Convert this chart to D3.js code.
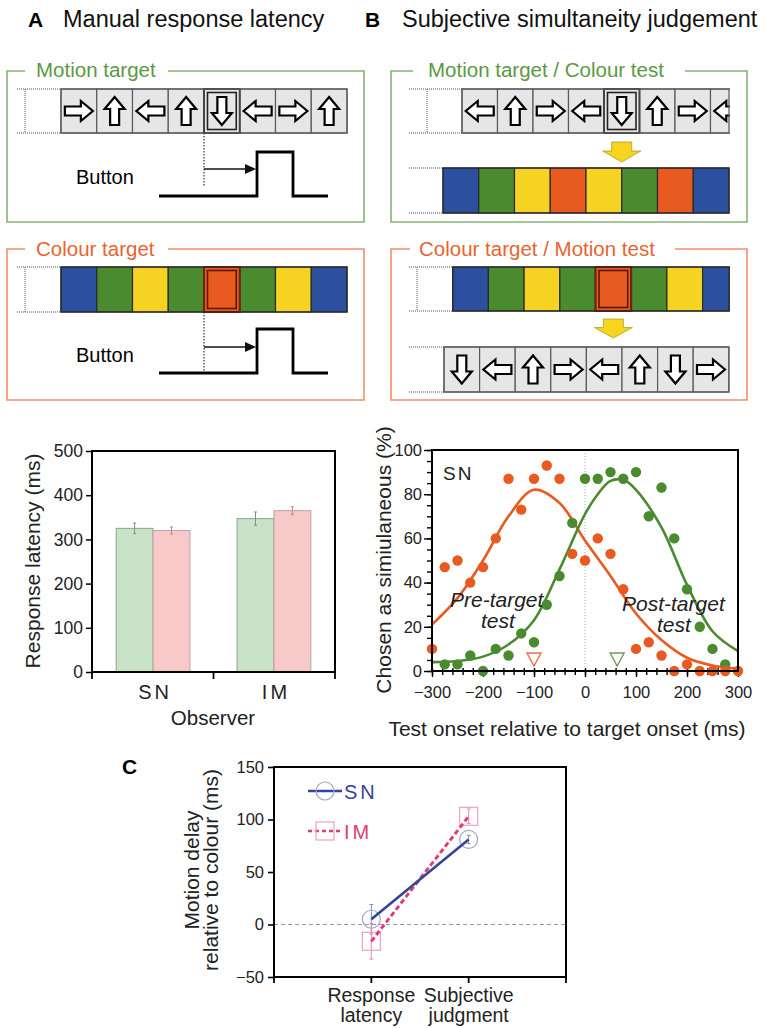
<!DOCTYPE html>
<html lang="en">
<head>
<meta charset="utf-8">
<script src="https://cdn.jsdelivr.net/npm/d3@7"></script>
<style>
  body { margin:0; padding:0; background:#ffffff; }
  svg { display:block; font-family:"Liberation Sans", Arial, Helvetica, sans-serif; }
  .tick text { font-family:"Liberation Sans", Arial, Helvetica, sans-serif; fill:#222; }
</style>
</head>
<body>
<script>
// ---- stimulus sequences ----
var motionTargetA = ["right","up","left","up","down","left","right","up"];
var colourTargetA = ["blue","green","yellow","green","orange","green","yellow","blue"];
var motionTargetB = ["left","up","right","left","down","up","right","left"];
var colourTestB   = ["blue","green","yellow","orange","yellow","green","orange","blue"];
var colourTargetB = ["blue","green","yellow","green","orange","green","yellow","blue"];
var motionTestB   = ["down","left","up","right","left","up","down","right"];

// ---- bar chart: response latency ----
var observers = ["SN","IM"];
var latencyMotion = [325, 347];
var latencyColour = [320, 365];
var errMotion = [12, 15];
var errColour = [8, 9];
var barTicks = [0,100,200,300,400,500];

// ---- simultaneity judgement (SN) ----
var testOnset = [-300,-275,-250,-225,-200,-175,-150,-125,-100,-75,-50,-25,0,25,50,75,100,125,150,175,200,225,250,275,300];
var preTarget = [10,47,50,40,47,60,87,73,87,93,87,53,50,60,53,37,10,13,7,0,3,0,0,0,0];
var postTarget = [null,3,3,7,0,10,7,17,13,30,43,67,87,87,90,87,90,70,83,60,37,20,10,3,null];
var preFitX  = [-300,-250,-200,-150,-100,-50,0,50,100,150,200,250,300];
var preFit   = [21,33,50,70,82,76,59,43,26,14,6,2.5,1];
var postFitX = [-300,-250,-200,-150,-100,-50,0,25,50,75,100,150,200,250,300];
var postFit  = [4,4.5,6.5,12,23,46,71,80,86,86.5,82,65,39,18,9];
var pssPre = -100, pssPost = 63;
var onsetTicks = [-300,-200,-100,0,100,200,300];
var pctTicks = [0,20,40,60,80,100];

// ---- panel C ----
var conditions = ["Response latency","Subjective judgment"];
var delaySN = [5, 81];
var errSN = [14, 4];
var delayIM = [-16, 103];
var errIM = [17, 7];
var delayTicks = [-50,0,50,100,150];

var palette = {blue:"#2c4f9e", green:"#4b8b30", yellow:"#f6d223", orange:"#e85a20"};
var greenLine = "#4b8b30", orangeLine = "#e85a20";
var greenBox = "#86b474", orangeBox = "#f0906c";
var greenTitle = "#5a9a42", orangeTitle = "#e8642e";
var snColour = "#34449a", imColour = "#e03c7a";

var svg = d3.select("body").append("svg").attr("width",773).attr("height",1028);

// ---------- helpers ----------
var arrowShape = "M-14,-4.5H2V-10L14,0L2,10V4.5H-14Z";
var dirAngle = {right:0, down:90, left:180, up:-90};
var clipId = 0;

function titledBox(l, t, r, b, gap0, gap1, col) {
  svg.append("path")
    .attr("d","M"+gap1+","+t+"H"+r+"V"+b+"H"+l+"V"+t+"H"+gap0)
    .attr("fill","none").attr("stroke",col).attr("stroke-width",1.6);
}
function boxTitle(x, y, col, label) {
  svg.append("text").attr("x",x).attr("y",y).attr("fill",col)
    .attr("font-size",20.5).text(label);
}

function drawStrip(o) {
  var n = o.items.length;
  var x = d3.scaleBand().domain(d3.range(n)).range([o.x0, o.x0 + o.cellW*n]);
  var id = "clip" + (clipId++);
  svg.append("clipPath").attr("id",id).append("rect")
    .attr("x",o.x0-1).attr("y",o.y0-2).attr("width",o.right-o.x0+2).attr("height",o.h+4);
  var g = svg.append("g").attr("clip-path","url(#"+id+")");
  var motion = o.kind === "motion";
  g.selectAll("rect.cell").data(o.items).enter().append("rect")
    .attr("class","cell")
    .attr("x",function(d,i){return x(i);}).attr("y",o.y0)
    .attr("width",x.bandwidth()).attr("height",o.h)
    .attr("fill",function(d){return motion ? "#e6e6e6" : palette[d];})
    .attr("stroke",motion ? "#5a5a5a" : "#2a2a2a").attr("stroke-width",1.2);
  if (motion) {
    g.selectAll("path.arw").data(o.items).enter().append("path")
      .attr("class","arw").attr("d",arrowShape)
      .attr("transform",function(d,i){
        return "translate("+(x(i)+x.bandwidth()/2)+","+(o.y0+o.h/2)+") rotate("+dirAngle[d]+")";})
      .attr("fill","#fff").attr("stroke","#000").attr("stroke-width",2.2)
      .attr("stroke-linejoin","miter");
  }
  if (o.target != null) {
    var tx = x(o.target);
    g.append("rect").attr("x",tx).attr("y",o.y0).attr("width",x.bandwidth()).attr("height",o.h)
      .attr("fill","none").attr("stroke",motion ? "#444" : "#6a2410").attr("stroke-width",2);
    g.append("rect").attr("x",tx+3.5).attr("y",o.y0+3.5).attr("width",x.bandwidth()-7).attr("height",o.h-7)
      .attr("fill","none").attr("stroke",motion ? "#222" : "#5a1a06").attr("stroke-width",1.6);
  }
  svg.append("rect").attr("x",o.x0).attr("y",o.y0).attr("width",o.right-o.x0).attr("height",o.h)
    .attr("fill","none").attr("stroke",motion ? "#5a5a5a" : "#2a2a2a").attr("stroke-width",1.2);
  // leading empty frame (dotted)
  var dot = svg.append("g").attr("stroke","#555").attr("stroke-width",1).attr("stroke-dasharray","1,1");
  dot.append("line").attr("x1",o.leadX).attr("x2",o.x0).attr("y1",o.y0).attr("y2",o.y0);
  dot.append("line").attr("x1",o.leadX).attr("x2",o.x0).attr("y1",o.y0+o.h).attr("y2",o.y0+o.h);
  if (o.vertX != null) {
    dot.append("line").attr("x1",o.vertX).attr("x2",o.vertX).attr("y1",o.y0).attr("y2",o.y0+o.h);
  }
  return x;
}

function buttonTrace(onsetX, stripBottom, dotEnd, arrowY, base, high) {
  var rise = onsetX + 53, fall = onsetX + 89;
  svg.append("line").attr("x1",onsetX).attr("x2",onsetX).attr("y1",stripBottom).attr("y2",dotEnd)
    .attr("stroke","#333").attr("stroke-width",1.2).attr("stroke-dasharray","1.5,1.5");
  svg.append("line").attr("x1",onsetX).attr("x2",rise-9).attr("y1",arrowY).attr("y2",arrowY)
    .attr("stroke","#111").attr("stroke-width",1.3);
  svg.append("path").attr("d","M"+(rise-1)+","+arrowY+"l-11,-5v10z").attr("fill","#111");
  svg.append("path")
    .attr("d","M"+(onsetX-45)+","+base+"H"+rise+"V"+high+"H"+fall+"V"+base+"H"+(onsetX+124))
    .attr("fill","none").attr("stroke","#000").attr("stroke-width",2.8);
}

function yellowArrow(cx, top, bottom) {
  var mid = top + (bottom-top)*0.45;
  svg.append("path")
    .attr("d","M"+(cx-10)+","+top+"H"+(cx+10)+"V"+mid+"H"+(cx+19)+"L"+cx+","+bottom+"L"+(cx-19)+","+mid+"H"+(cx-10)+"Z")
    .attr("fill","#f6d51e").attr("stroke","#b09a20").attr("stroke-width",0.8);
}

// ---------- panel titles ----------
svg.append("text").attr("x",28).attr("y",27).attr("font-size",21).attr("font-weight","bold").text("A");
svg.append("text").attr("x",63).attr("y",27).attr("font-size",23.5).attr("fill","#111").text("Manual response latency");
svg.append("text").attr("x",365).attr("y",27).attr("font-size",21).attr("font-weight","bold").text("B");
svg.append("text").attr("x",402).attr("y",27).attr("font-size",23.5).attr("fill","#111").text("Subjective simultaneity judgement");

// ---------- panel A ----------
titledBox(7,71,364,222,25,168,greenBox);
boxTitle(36,77,greenTitle,"Motion target");
var sa = drawStrip({x0:61, y0:89, cellW:35.75, h:44, items:motionTargetA, kind:"motion", target:4, right:347, leadX:17, vertX:25});
svg.append("text").attr("x",76).attr("y",184).attr("font-size",20).text("Button");
buttonTrace(sa(4), 133, 186, 169, 196, 152);

titledBox(7,249,364,400,25,168,orangeBox);
boxTitle(36,256,orangeTitle,"Colour target");
var sc = drawStrip({x0:61, y0:267, cellW:35.75, h:45, items:colourTargetA, kind:"colour", target:4, right:347, leadX:17, vertX:25});
svg.append("text").attr("x",76).attr("y",362).attr("font-size",20).text("Button");
buttonTrace(sc(4), 312, 373, 347, 373, 329);

// ---------- panel B ----------
titledBox(391,71,747,222,413,685,greenBox);
boxTitle(428,77,greenTitle,"Motion target / Colour test");
var sb1 = drawStrip({x0:462, y0:89, cellW:35.5, h:44, items:motionTargetB, kind:"motion", target:4, right:729, leadX:409, vertX:427});
yellowArrow(sb1(4)+sb1.bandwidth()/2, 142, 162);
drawStrip({x0:443, y0:168, cellW:35.75, h:45, items:colourTestB, kind:"colour", target:null, right:729, leadX:409, vertX:null});

titledBox(391,249,747,400,410,675,orangeBox);
boxTitle(419,256,orangeTitle,"Colour target / Motion test");
var sb2 = drawStrip({x0:452.7, y0:267, cellW:35.7, h:44, items:colourTargetB, kind:"colour", target:4, right:729, leadX:409, vertX:417});
yellowArrow(sb2(4)+sb2.bandwidth()/2, 319, 338);
drawStrip({x0:444, y0:347, cellW:35.6, h:45, items:motionTestB, kind:"motion", target:null, right:729, leadX:409, vertX:null});

// ---------- bar chart ----------
var yBar = d3.scaleLinear().domain([0,500]).range([672,451]);
var xBar = d3.scaleBand().domain(observers).range([92,335]).paddingInner(0.39).paddingOuter(0.2);
var xSub = d3.scaleBand().domain(["motion","colour"]).range([0,xBar.bandwidth()]);
var barRows = observers.map(function(o,i){
  return [{obs:o,key:"motion",v:latencyMotion[i],e:errMotion[i]},
          {obs:o,key:"colour",v:latencyColour[i],e:errColour[i]}];
});
var barFill = {motion:"#c9e3c9", colour:"#f8c9c9"};
var barStroke = {motion:"#8fa48f", colour:"#c0a0a0"};
var errStroke = {motion:"#7c967c", colour:"#e07c7c"};
var bars = svg.append("g");
barRows.forEach(function(row){
  var g = bars.append("g").attr("transform","translate("+xBar(row[0].obs)+",0)");
  g.selectAll("rect").data(row).enter().append("rect")
    .attr("x",function(d){return xSub(d.key);}).attr("width",xSub.bandwidth())
    .attr("y",function(d){return yBar(d.v);}).attr("height",function(d){return yBar(0)-yBar(d.v);})
    .attr("fill",function(d){return barFill[d.key];})
    .attr("stroke",function(d){return barStroke[d.key];}).attr("stroke-width",1);
  g.selectAll("path.err").data(row).enter().append("path").attr("class","err")
    .attr("d",function(d){
      var cx = xSub(d.key)+xSub.bandwidth()/2;
      return "M"+cx+","+yBar(d.v-d.e)+"V"+yBar(d.v+d.e)+
             "M"+(cx-1.5)+","+yBar(d.v+d.e)+"h3M"+(cx-1.5)+","+yBar(d.v-d.e)+"h3";})
    .attr("stroke",function(d){return errStroke[d.key];}).attr("stroke-width",1).attr("fill","none");
});
var ab = svg.append("g").attr("transform","translate(92,0)")
  .call(d3.axisLeft(yBar).tickValues(barTicks).tickSize(6).tickPadding(3));
ab.select(".domain").remove();
ab.selectAll(".tick line").attr("stroke","#000").attr("stroke-width",1.5);
ab.selectAll(".tick text").attr("font-size",17.5);
svg.append("rect").attr("x",92).attr("y",451).attr("width",243).attr("height",221)
  .attr("fill","none").attr("stroke","#000").attr("stroke-width",2);
var sepX = [92, (xBar("SN")+xBar.bandwidth()+xBar("IM"))/2, 335];
svg.selectAll("line.xsep").data(sepX).enter().append("line").attr("class","xsep")
  .attr("x1",function(d){return d;}).attr("x2",function(d){return d;})
  .attr("y1",672).attr("y2",679).attr("stroke","#000").attr("stroke-width",1.8);
svg.selectAll("text.obs").data(observers).enter().append("text").attr("class","obs")
  .attr("x",function(d){return xBar(d)+xBar.bandwidth()/2+2;}).attr("y",699)
  .attr("text-anchor","middle").attr("font-size",20).attr("letter-spacing",3).attr("fill","#222")
  .text(function(d){return d;});
svg.append("text").attr("x",213).attr("y",725).attr("text-anchor","middle").attr("font-size",20.5)
  .attr("fill","#222").text("Observer");
svg.append("text").attr("transform","translate(40,561) rotate(-90)").attr("text-anchor","middle")
  .attr("font-size",21).attr("fill","#222").text("Response latency (ms)");

// ---------- simultaneity chart ----------
var xs = d3.scaleLinear().domain([-300,300]).range([432,738]);
var ys = d3.scaleLinear().domain([0,100]).range([671,450]);
svg.append("line").attr("x1",xs(0)).attr("x2",xs(0)).attr("y1",450).attr("y2",671)
  .attr("stroke","#aaa").attr("stroke-width",1).attr("stroke-dasharray","1,2");

var ayMinor = svg.append("g").attr("transform","translate(432,0)")
  .call(d3.axisLeft(ys).ticks(20).tickSize(5).tickFormat(""));
var ayMajor = svg.append("g").attr("transform","translate(432,0)")
  .call(d3.axisLeft(ys).tickValues(pctTicks).tickSize(8).tickPadding(2));
var axMinorOut = svg.append("g").attr("transform","translate(0,671)")
  .call(d3.axisBottom(xs).ticks(24).tickSize(4).tickFormat(""));
var axMinorIn = svg.append("g").attr("transform","translate(0,671)")
  .call(d3.axisBottom(xs).ticks(24).tickSize(-3).tickFormat(""));
var axMajor = svg.append("g").attr("transform","translate(0,671)")
  .call(d3.axisBottom(xs).tickValues(onsetTicks).tickSize(6).tickPadding(9));
[ayMinor, ayMajor, axMinorOut, axMinorIn, axMajor].forEach(function(a){
  a.select(".domain").remove();
  a.selectAll(".tick line").attr("stroke","#000").attr("stroke-width",1.4);
  a.selectAll(".tick text").attr("font-size",16.5);
});

var fitLine = d3.line().curve(d3.curveCatmullRom.alpha(0.5))
  .x(function(d){return xs(d[0]);}).y(function(d){return ys(d[1]);});
svg.append("path").datum(preFitX.map(function(x,i){return [x,preFit[i]];}))
  .attr("d",fitLine).attr("fill","none").attr("stroke",orangeLine).attr("stroke-width",2.6);
svg.append("path").datum(postFitX.map(function(x,i){return [x,postFit[i]];}))
  .attr("d",fitLine).attr("fill","none").attr("stroke",greenLine).attr("stroke-width",2.6);

var postPts = testOnset.map(function(x,i){return [x,postTarget[i]];}).filter(function(d){return d[1]!=null;});
var prePts = testOnset.map(function(x,i){return [x,preTarget[i]];});
svg.selectAll("circle.post").data(postPts).enter().append("circle").attr("class","post")
  .attr("cx",function(d){return xs(d[0]);}).attr("cy",function(d){return ys(d[1]);})
  .attr("r",5.2).attr("fill",greenLine);
svg.selectAll("circle.pre").data(prePts).enter().append("circle").attr("class","pre")
  .attr("cx",function(d){return xs(d[0]);}).attr("cy",function(d){return ys(d[1]);})
  .attr("r",5.2).attr("fill",orangeLine);

svg.append("rect").attr("x",432).attr("y",450).attr("width",306).attr("height",221)
  .attr("fill","none").attr("stroke","#000").attr("stroke-width",2);

[[pssPre,"#e8704a"],[pssPost,"#6f9a60"]].forEach(function(p){
  var cx = xs(p[0]), top = ys(0)-18, bot = ys(0)-5;
  svg.append("path").attr("d","M"+(cx-7)+","+top+"H"+(cx+7)+"L"+cx+","+bot+"Z")
    .attr("fill","none").attr("stroke",p[1]).attr("stroke-width",1.4);
});

svg.append("text").attr("x",443).attr("y",480).attr("font-size",19).attr("letter-spacing",2)
  .attr("fill","#222").text("SN");
var ital = svg.append("g").attr("font-size",21).attr("font-style","italic").attr("fill","#222");
ital.append("text").attr("x",450).attr("y",607).text("Pre-target");
ital.append("text").attr("x",481).attr("y",628).text("test");
ital.append("text").attr("x",622).attr("y",611).text("Post-target");
ital.append("text").attr("x",657).attr("y",632).text("test");

svg.append("text").attr("x",567).attr("y",736).attr("text-anchor","middle").attr("font-size",21)
  .attr("fill","#222").text("Test onset relative to target onset (ms)");
svg.append("text").attr("transform","translate(391,560) rotate(-90)").attr("text-anchor","middle")
  .attr("font-size",21).attr("fill","#222").text("Chosen as simiulaneous (%)");

// ---------- panel C ----------
svg.append("text").attr("x",122).attr("y",774).attr("font-size",21).attr("font-weight","bold").text("C");
var xC = d3.scalePoint().domain(conditions).range([274,566]).padding(1);
var yC = d3.scaleLinear().domain([-50,150]).range([977,767]);

svg.append("line").attr("x1",274).attr("x2",566).attr("y1",yC(0)).attr("y2",yC(0))
  .attr("stroke","#999").attr("stroke-width",1).attr("stroke-dasharray","4,3");

var acy = svg.append("g").attr("transform","translate(274,0)")
  .call(d3.axisLeft(yC).tickValues(delayTicks).tickSize(6).tickPadding(4));
acy.select(".domain").remove();
acy.selectAll(".tick line").attr("stroke","#000").attr("stroke-width",1.6);
acy.selectAll(".tick text").attr("font-size",16.5);
var cTickX = [274].concat(conditions.map(function(c){return xC(c);})).concat([566]);
svg.selectAll("line.cx").data(cTickX).enter().append("line").attr("class","cx")
  .attr("x1",function(d){return d;}).attr("x2",function(d){return d;})
  .attr("y1",977).attr("y2",983).attr("stroke","#000").attr("stroke-width",1.8);
conditions.forEach(function(c){
  var words = c.split(" ");
  var t = svg.append("text").attr("text-anchor","middle").attr("font-size",19.5).attr("fill","#222");
  t.append("tspan").attr("x",xC(c)).attr("y",1002).text(words[0]);
  t.append("tspan").attr("x",xC(c)).attr("y",1022).text(words[1]);
});
var yl = svg.append("text").attr("transform","translate(199,870) rotate(-90)")
  .attr("text-anchor","middle").attr("font-size",21).attr("fill","#222");
yl.append("tspan").attr("x",0).attr("y",0).text("Motion delay");
yl.append("tspan").attr("x",0).attr("y",19).text("relative to colour (ms)");

function errBars(vals, errs, col) {
  svg.selectAll(null).data(vals).enter().append("path")
    .attr("d",function(d,i){
      var cx = xC(conditions[i]);
      return "M"+cx+","+yC(d-errs[i])+"V"+yC(d+errs[i])+
             "M"+(cx-2)+","+yC(d+errs[i])+"h4M"+(cx-2)+","+yC(d-errs[i])+"h4";})
    .attr("stroke",col).attr("stroke-width",1).attr("fill","none");
}
errBars(delaySN, errSN, "#8a8ab8");
errBars(delayIM, errIM, "#e58ab0");

svg.selectAll("circle.sn").data(delaySN).enter().append("circle").attr("class","sn")
  .attr("cx",function(d,i){return xC(conditions[i]);}).attr("cy",function(d){return yC(d);})
  .attr("r",9).attr("fill","none").attr("stroke","#a4a4cc").attr("stroke-width",1.2);
svg.selectAll("rect.im").data(delayIM).enter().append("rect").attr("class","im")
  .attr("x",function(d,i){return xC(conditions[i])-9;}).attr("y",function(d){return yC(d)-9;})
  .attr("width",18).attr("height",18)
  .attr("fill","none").attr("stroke","#f0a0c4").attr("stroke-width",1.2);

var cLine = d3.line().x(function(d,i){return xC(conditions[i]);}).y(function(d){return yC(d);});
svg.append("path").datum(delayIM).attr("d",cLine).attr("fill","none").attr("stroke",imColour)
  .attr("stroke-width",3).attr("stroke-dasharray","5,3");
svg.append("path").datum(delaySN).attr("d",cLine).attr("fill","none").attr("stroke",snColour)
  .attr("stroke-width",2.6);

var legend = [{name:"SN", col:snColour, dash:null, mk:"#a4a4cc", y:791},
              {name:"IM", col:imColour, dash:"4,3", mk:"#f0a0c4", y:831}];
legend.forEach(function(l){
  svg.append("line").attr("x1",308).attr("x2",342).attr("y1",l.y).attr("y2",l.y)
    .attr("stroke",l.col).attr("stroke-width",2.4).attr("stroke-dasharray",l.dash);
  if (l.name === "SN") {
    svg.append("circle").attr("cx",325).attr("cy",l.y).attr("r",9)
      .attr("fill","none").attr("stroke",l.mk).attr("stroke-width",1.2);
  } else {
    svg.append("rect").attr("x",316).attr("y",l.y-9).attr("width",18).attr("height",18)
      .attr("fill","none").attr("stroke",l.mk).attr("stroke-width",1.2);
  }
  svg.append("text").attr("x",344).attr("y",l.y+7.5).attr("font-size",20).attr("letter-spacing",3)
    .attr("fill",l.col).text(l.name);
});

svg.append("rect").attr("x",274).attr("y",767).attr("width",292).attr("height",210)
  .attr("fill","none").attr("stroke","#000").attr("stroke-width",2);
</script>
</body>
</html>
